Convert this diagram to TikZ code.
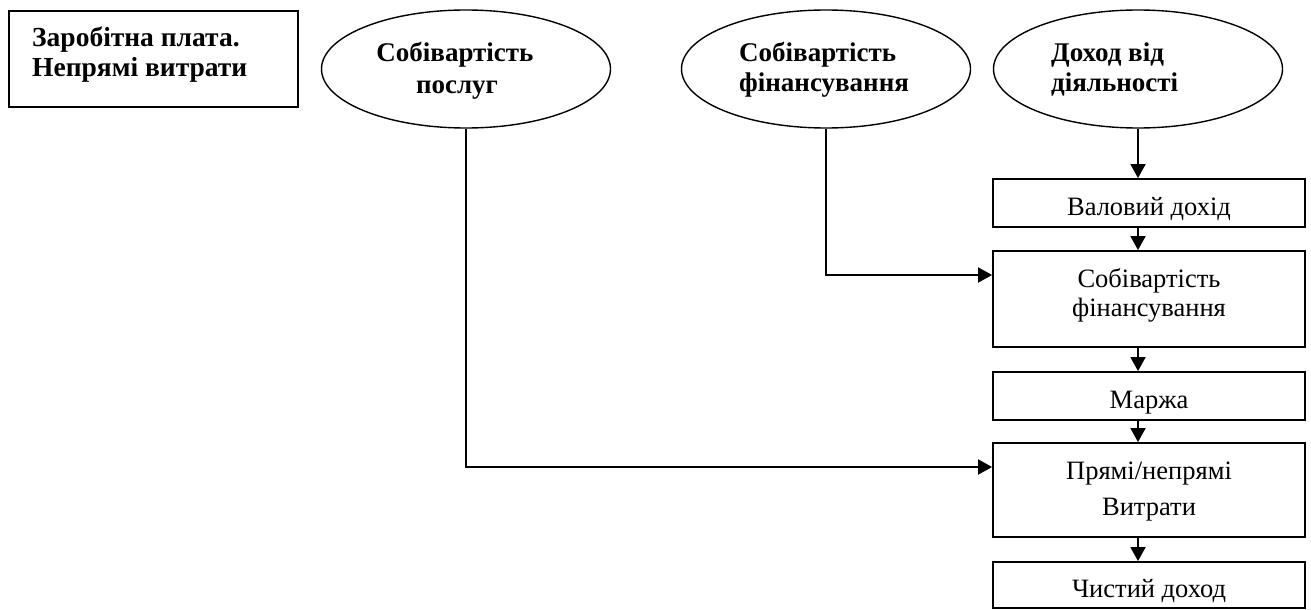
\documentclass[tikz,border=0pt]{standalone}
\usepackage{fontspec}
\setmainfont{Liberation Serif}
\usetikzlibrary{shapes.geometric,arrows.meta,calc}
\tikzset{
  box/.style={draw,line width=1.9pt,rectangle,inner sep=0pt},
  oval/.style={draw,line width=1.4pt,ellipse,inner sep=0pt,minimum width=289pt,minimum height=118pt},
  btxt/.style={font=\fontsize{27}{30}\selectfont\bfseries,inner sep=0pt},
  rtxt/.style={font=\fontsize{26.5}{30}\selectfont,inner sep=0pt},
  arr/.style={line width=1.9pt,-{Triangle[length=14pt,width=15pt]}},
}
\begin{document}
\begin{tikzpicture}[x=1pt,y=-1pt]
\useasboundingbox (0,0) rectangle (1311,610);
% top-left box
\node[box,minimum width=289pt,minimum height=96pt] (zp) at (153.5,59) {};
\node[btxt,font=\fontsize{27.5}{30}\selectfont\bfseries,anchor=base west] (zp1) at (32,47) {Заробітна плата.};
\node[btxt,font=\fontsize{27.5}{30}\selectfont\bfseries,anchor=base west] (zp2) at (32,77) {Непрямі витрати};
% ellipses
\node[oval] (e1) at (466,69) {};
\node[btxt,anchor=base] (e1a) at (455,62) {Собівартість};
\node[btxt,anchor=base] (e1b) at (457,93) {послуг};
\node[oval] (e2) at (826,69) {};
\node[btxt,anchor=base west] (e2a) at (739,62) {Собівартість};
\node[btxt,anchor=base west] (e2b) at (739,92) {фінансування};
\node[oval] (e3) at (1138,69) {};
\node[btxt,anchor=base west] (e3a) at (1051,62) {Доход від};
\node[btxt,anchor=base west] (e3b) at (1051,92) {діяльності};
% right column boxes
\node[box,minimum width=312pt,minimum height=48pt] (b1) at (1149,203) {};
\node[rtxt,anchor=base] (b1t) at (1149,215) {Валовий дохід};
\node[box,minimum width=312pt,minimum height=96pt] (b2) at (1149,299) {};
\node[rtxt,anchor=base] (b2a) at (1149,287) {Собівартість};
\node[rtxt,anchor=base] (b2b) at (1149,316) {фінансування};
\node[box,minimum width=312pt,minimum height=48pt] (b3) at (1149,396) {};
\node[rtxt,anchor=base] (b3t) at (1149,408) {Маржа};
\node[box,minimum width=312pt,minimum height=94pt] (b4) at (1149,490) {};
\node[rtxt,anchor=base] (b4a) at (1149,479) {Прямі/непрямі};
\node[rtxt,anchor=base] (b4b) at (1149,515) {Витрати};
\node[box,minimum width=312pt,minimum height=46pt] (b5) at (1149,585) {};
\node[rtxt,anchor=base] (b5t) at (1149,597) {Чистий доход};
% arrows
\draw[arr] (e3.south) -- (e3.south |- b1.north);
\draw[arr] (b1.south -| e3.south) -- (b2.north -| e3.south);
\draw[arr] (b2.south -| e3.south) -- (b3.north -| e3.south);
\draw[arr] (b3.south -| e3.south) -- (b4.north -| e3.south);
\draw[arr] (b4.south -| e3.south) -- (b5.north -| e3.south);
\coordinate (c2) at (b2.west |- 0,275);
\coordinate (c4) at (b4.west |- 0,467);
\draw[arr] (e2.south) |- (c2);
\draw[arr] (e1.south) |- (c4);
\end{tikzpicture}
\end{document}
